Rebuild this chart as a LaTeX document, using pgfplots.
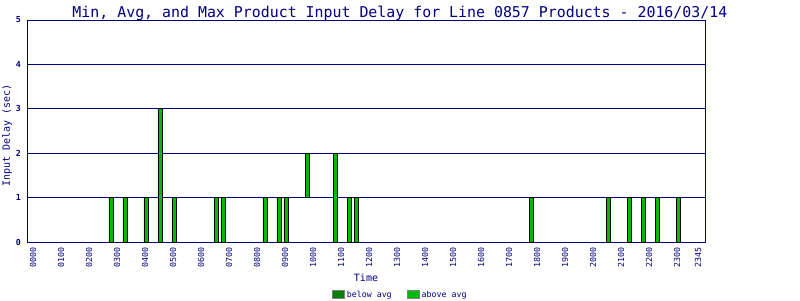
\documentclass[border=0pt]{standalone}
\usepackage{pgfplots}
\pgfplotsset{compat=1.18}
\usepackage{fontspec}
\newfontfamily\mono{DejaVu Sans Mono}
\definecolor{navyc}{RGB}{0,0,128}
\definecolor{bargreen}{RGB}{0,187,0}
\definecolor{dkgreen}{RGB}{0,128,0}
\pgfplotsset{/pgfplots/swatch legend/.style={legend image code/.code={\draw[##1,draw=gray,line width=1pt] (0pt,-3.5pt) rectangle (12pt,4.5pt);}}}
\begin{document}
\begin{tikzpicture}
\path[use as bounding box] (0,0) rectangle (800pt,300pt);
\begin{axis}[
  at={(27pt,58pt)}, anchor=south west,
  scale only axis, width=678pt, height=222pt,
  xmin=-0.214, xmax=24.0, ymin=0, ymax=5,
  enlargelimits=false,
  ybar stacked, bar width=4pt,
  axis line style={navyc, line width=1pt},
  ytick={0,1,2,3,4,5},
  /pgf/number format/assume math mode=true,
  ymajorgrids, grid style={navyc, line width=1pt},
  major tick length=0pt,
  xtick={0,1,2,3,4,5,6,7,8,9,10,11,12,13,14,15,16,17,18,19,20,21,22,23,23.75},
  xticklabels={0000,0100,0200,0300,0400,0500,0600,0700,0800,0900,1000,1100,1200,1300,1400,1500,1600,1700,1800,1900,2000,2100,2200,2300,2345},
  xticklabel style={yshift=-5pt, rotate=90, anchor=east, inner sep=0pt, font=\fontsize{8.3}{9}\mono, text=navyc},
  yticklabel style={xshift=-6pt, anchor=east, inner sep=0pt, font=\fontsize{8.3}{9}\mono\bfseries, text=navyc},
  title={Min, Avg, and Max Product Input Delay for Line 0857 Products - 2016/03/14},
  title style={at={(0.55,1)}, anchor=base, yshift=-3.3pt, inner sep=0pt, font=\fontsize{14.9}{16}\mono, text=navyc},
  ylabel={Input Delay (sec)},
  ylabel style={at={(-0.0295,0.48)}, anchor=center, inner sep=0pt, font=\fontsize{10}{12}\mono, text=navyc},
  xlabel={Time},
  xlabel style={at={(0.5,-0.162)}, anchor=center, inner sep=0pt, font=\fontsize{10}{12}\mono, text=navyc},
  legend style={at={(0.5505,-0.239)}, anchor=center, draw=none, fill=none, legend columns=2,
    font=\fontsize{8.3}{9}\mono, text=navyc, inner sep=0pt,
    /tikz/every even column/.style={column sep=13pt}},
  legend cell align=left,
]
\addplot[forget plot, fill=none, draw=none, bar shift=1pt] coordinates {(2.75,0) (3.25,0) (4,0) (4.5,0) (5,0) (6.5,0) (6.75,0) (8.25,0) (8.75,0) (9,0) (9.75,1) (10.75,0) (11.25,0) (11.5,0) (17.75,0) (20.5,0) (21.25,0) (21.75,0) (22.25,0) (23,0)};
\addplot[forget plot, fill=bargreen, draw=black, line width=0.8pt, bar shift=1pt] coordinates {(2.75,1) (3.25,1) (4,1) (4.5,3) (5,1) (6.5,1) (6.75,1) (8.25,1) (8.75,1) (9,1) (9.75,1) (10.75,2) (11.25,1) (11.5,1) (17.75,1) (20.5,1) (21.25,1) (21.75,1) (22.25,1) (23,1)};
\addlegendimage{swatch legend, fill=dkgreen}
\addlegendentry{below avg}
\addlegendimage{swatch legend, fill=bargreen}
\addlegendentry{above avg}
\end{axis}
\end{tikzpicture}
\end{document}
